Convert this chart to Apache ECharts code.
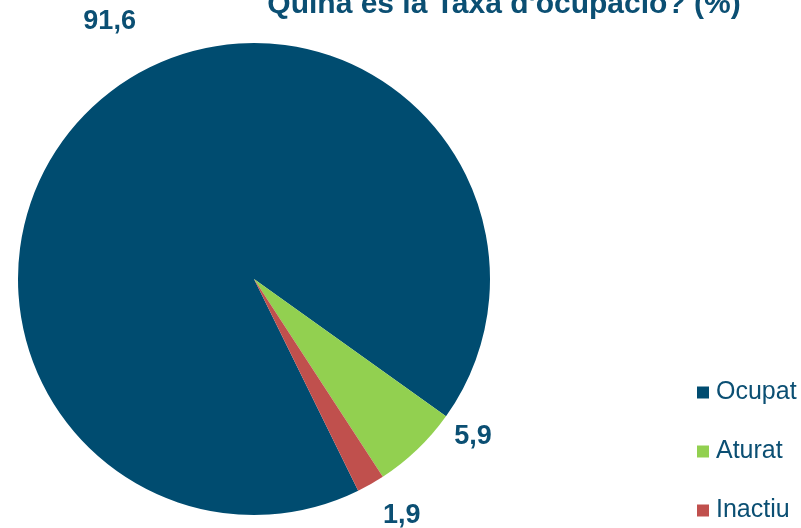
<!DOCTYPE html>
<html>
<head>
<meta charset="utf-8">
<script src="https://cdn.jsdelivr.net/npm/echarts@6/dist/echarts.min.js"></script>
<style>html,body{margin:0;padding:0;background:#fff}#c{width:801px;height:528px}</style>
</head>
<body>
<div id="c"></div>
<script>
const categories = ['Ocupat', 'Aturat', 'Inactiu'];
const values = [91.6, 5.9, 1.9];
const colors = ['#004C70', '#92D050', '#C0504D'];
const titleText = "Quina és la Taxa d'ocupació? (%)";
// label placement (polar, relative to pie centre): angle in degrees, distance in px
const labelPolar = [[119.3, 295], [-35.8, 270], [-58, 279]];

const CX = 254, CY = 279;
const chart = echarts.init(document.getElementById('c'));
chart.setOption({
  animation: false,
  title: {
    text: titleText,
    left: 499, top: -15,
    textAlign: 'center',
    textStyle: { fontFamily: 'Liberation Sans, Arial', fontWeight: 'bold', fontSize: 30, color: '#0B4F73' }
  },
  legend: {
    orient: 'vertical',
    left: 692, top: 375,
    itemWidth: 12, itemHeight: 12, itemGap: 34,
    icon: 'rect',
    data: categories,
    textStyle: { fontFamily: 'Liberation Sans, Arial', fontSize: 25, color: '#0B4F73', padding: [0,0,0,2] }
  },
  series: [{
    type: 'pie',
    center: [CX, CY],
    radius: 236,
    startAngle: 296.2,
    clockwise: true,
    data: categories.map((c, i) => ({ name: c, value: values[i], itemStyle: { color: colors[i] } })),
    label: {
      show: true,
      position: 'outside',
      formatter: p => String(p.value).replace('.', ','),
      fontFamily: 'Liberation Sans, Arial', fontWeight: 'bold', fontSize: 27, color: '#0B4F73'
    },
    labelLine: { show: false, length: 20, length2: 0 },
    labelLayout: p => {
      const [a, d] = labelPolar[p.dataIndex];
      const r = a * Math.PI / 180;
      return { x: CX + d * Math.cos(r), y: CY - d * Math.sin(r), align: 'center', verticalAlign: 'middle' };
    }
  }]
});
</script>
</body>
</html>
